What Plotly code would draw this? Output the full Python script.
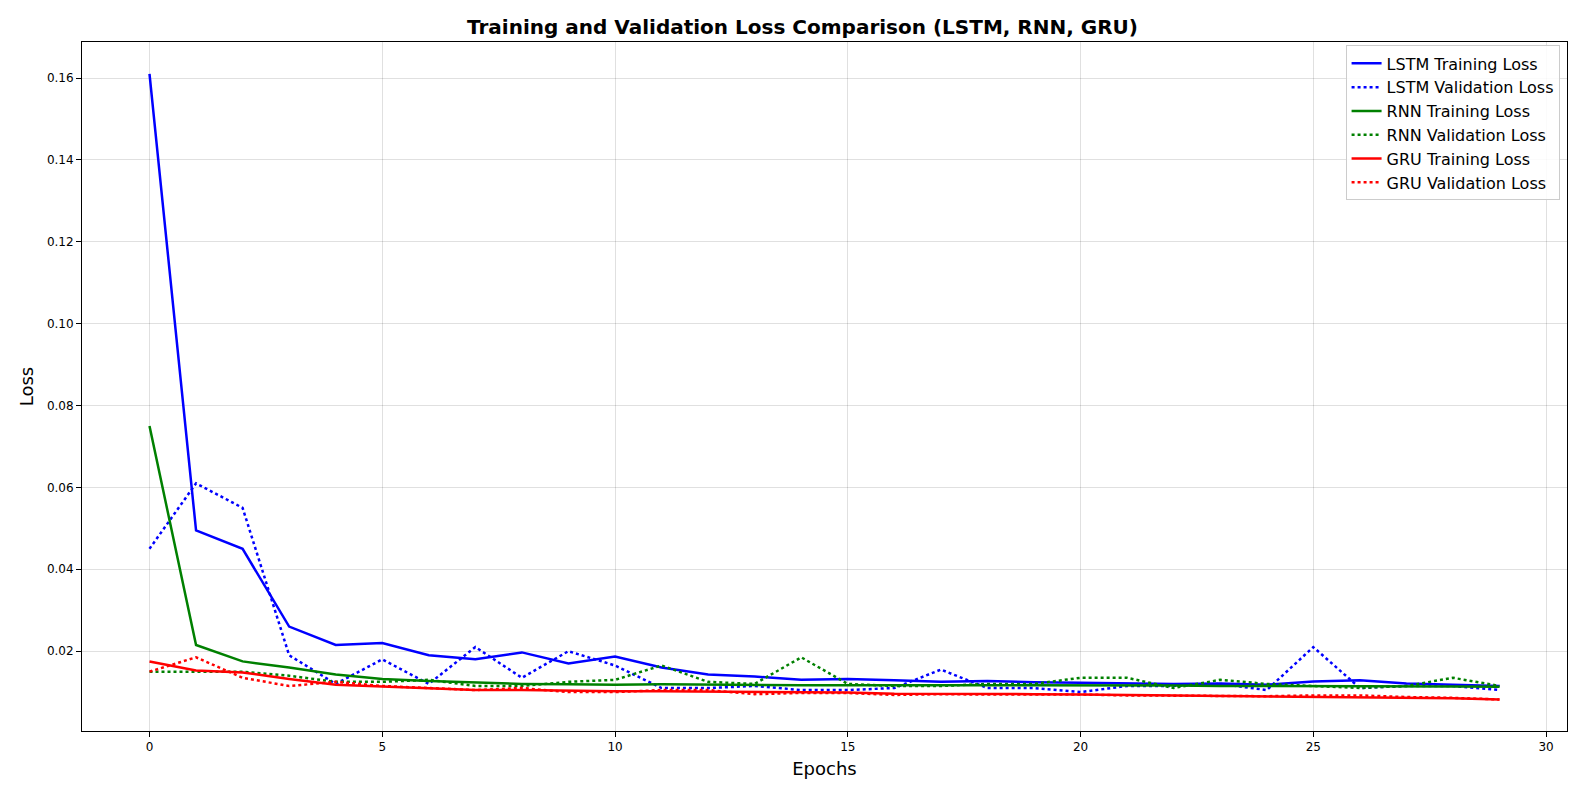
import plotly.graph_objects as go

epochs = list(range(30))

lstm_train = [0.161, 0.0495, 0.045, 0.026, 0.0215, 0.022, 0.019, 0.018, 0.0197, 0.017,
              0.0187, 0.016, 0.0143, 0.0138, 0.013, 0.0132, 0.0129, 0.0125, 0.0127, 0.0124,
              0.0123, 0.0122, 0.012, 0.0121, 0.0118, 0.0126, 0.0129, 0.0121, 0.0118, 0.0115]
lstm_val = [0.045, 0.061, 0.055, 0.019, 0.012, 0.018, 0.012, 0.021, 0.0135, 0.02,
            0.0165, 0.011, 0.011, 0.0115, 0.0105, 0.0105, 0.011, 0.0155, 0.011, 0.011,
            0.010, 0.0115, 0.0115, 0.012, 0.0105, 0.021, 0.011, 0.0115, 0.0115, 0.0105]
rnn_train = [0.075, 0.0215, 0.0175, 0.016, 0.0143, 0.0132, 0.0127, 0.0123, 0.012, 0.0119,
             0.0118, 0.0119, 0.0118, 0.0117, 0.0117, 0.0117, 0.0117, 0.0117, 0.0116, 0.0116,
             0.0116, 0.0116, 0.0116, 0.0115, 0.0115, 0.0115, 0.0114, 0.0114, 0.0114, 0.0113]
rnn_val = [0.015, 0.015, 0.015, 0.014, 0.0125, 0.0125, 0.013, 0.0115, 0.0115, 0.0125,
           0.013, 0.0165, 0.0125, 0.012, 0.0185, 0.012, 0.0115, 0.0115, 0.012, 0.012,
           0.0135, 0.0135, 0.011, 0.013, 0.012, 0.0115, 0.011, 0.0115, 0.0135, 0.0115]
gru_train = [0.0175, 0.0153, 0.0148, 0.0132, 0.0118, 0.0114, 0.011, 0.0105, 0.0105, 0.0103,
             0.0102, 0.0102, 0.0101, 0.01, 0.0099, 0.0099, 0.0096, 0.0096, 0.0095, 0.0095,
             0.0094, 0.0093, 0.0092, 0.009, 0.009, 0.0089, 0.0087, 0.0086, 0.0085, 0.0082]
gru_val = [0.015, 0.0185, 0.0135, 0.0115, 0.0125, 0.0115, 0.011, 0.0105, 0.011, 0.01,
           0.01, 0.0105, 0.0105, 0.0095, 0.0098, 0.0098, 0.0093, 0.0095, 0.0094, 0.0094,
           0.0094, 0.0092, 0.0091, 0.009, 0.009, 0.0092, 0.0092, 0.0088, 0.0086, 0.0082]

series = [
    ("LSTM Training Loss", lstm_train, "blue", "solid"),
    ("LSTM Validation Loss", lstm_val, "blue", "dot"),
    ("RNN Training Loss", rnn_train, "green", "solid"),
    ("RNN Validation Loss", rnn_val, "green", "dot"),
    ("GRU Training Loss", gru_train, "red", "solid"),
    ("GRU Validation Loss", gru_val, "red", "dot"),
]

fig = go.Figure()
for name, vals, color, dash in series:
    fig.add_trace(go.Scatter(x=epochs, y=vals, name=name, mode="lines",
                             line=dict(color=color, width=2.5, dash=dash)))

axis = dict(showline=True, linecolor="black", mirror=True, ticks="outside",
            tickcolor="black", gridcolor="rgba(0,0,0,0.12)", zeroline=False,
            automargin=False, tickfont=dict(size=12, color="black"))
fig.update_layout(
    width=1589, height=790,
    paper_bgcolor="white", plot_bgcolor="white",
    font=dict(family="DejaVu Sans", color="black"),
    title=dict(text="<b>Training and Validation Loss Comparison (LSTM, RNN, GRU)</b>",
               x=0.5, xanchor="center", yref="container", y=1 - 19 / 790,
               yanchor="middle", font=dict(size=20)),
    margin=dict(l=74, r=30, t=34, b=67, autoexpand=False),
    showlegend=True,
    legend=dict(x=0.995, y=0.995, xanchor="right", yanchor="top",
                bordercolor="#cccccc", borderwidth=1, bgcolor="rgba(255,255,255,0.85)",
                font=dict(size=16)),
    xaxis=dict(axis, range=[-1.45, 30.45], tickvals=[0, 5, 10, 15, 20, 25, 30],
               title=dict(text="Epochs", font=dict(size=18), standoff=8)),
    yaxis=dict(axis, range=[0.0005, 0.1688],
               tickvals=[0.02, 0.04, 0.06, 0.08, 0.10, 0.12, 0.14, 0.16],
               tickformat=".2f", title=dict(text="Loss", font=dict(size=18), standoff=8)),
)

fig.write_html("out.html")
